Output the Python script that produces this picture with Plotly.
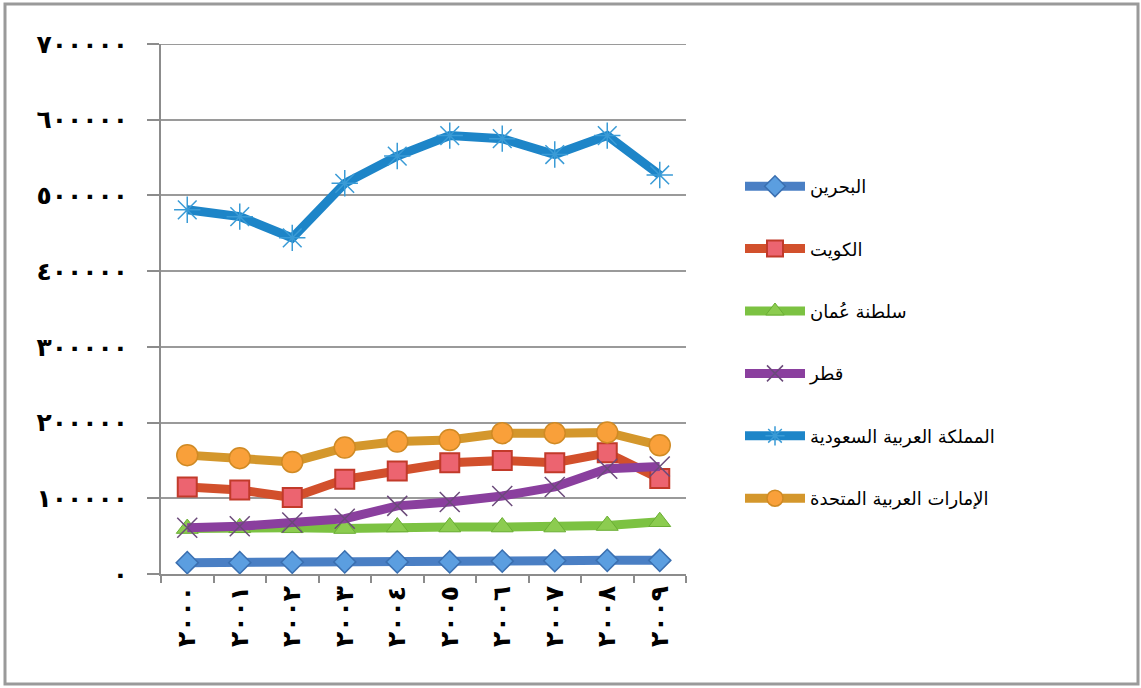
import plotly.graph_objects as go

# Years 2000-2009 written with Arabic-Indic digits
years = ["٢٠٠٠", "٢٠٠١", "٢٠٠٢", "٢٠٠٣", "٢٠٠٤", "٢٠٠٥", "٢٠٠٦", "٢٠٠٧", "٢٠٠٨", "٢٠٠٩"]

bahrain = [15000, 15000, 15500, 16000, 16000, 16000, 17000, 17500, 18000, 18000]
kuwait = [115000, 111000, 101000, 125000, 136000, 147000, 150000, 147000, 160000, 126000]
oman = [60000, 61000, 61000, 60000, 62000, 62000, 62000, 62000, 64000, 69000]
qatar = [61000, 63000, 68000, 73000, 90000, 95000, 103000, 115000, 139000, 142000]
saudi = [481000, 472000, 444000, 516000, 552000, 579000, 575000, 554000, 579000, 527000]
uae = [157000, 153000, 148000, 167000, 175000, 177000, 186000, 186000, 187000, 170000]

y_tick_values = [0, 100000, 200000, 300000, 400000, 500000, 600000, 700000]
y_tick_labels = ["٠", "١٠٠٠٠٠", "٢٠٠٠٠٠", "٣٠٠٠٠٠", "٤٠٠٠٠٠", "٥٠٠٠٠٠", "٦٠٠٠٠٠", "٧٠٠٠٠٠"]

series = [
    ("البحرين", bahrain, "#4a7fc4", dict(symbol="diamond", size=17, color="#5b9ee0",
                                          line=dict(color="#3a6fb0", width=1.5))),
    ("الكويت", kuwait, "#d2502c", dict(symbol="square", size=19, color="#ec6470",
                                        line=dict(color="#c23a2a", width=2))),
    ("سلطنة عُمان", oman, "#7cc242", dict(symbol="triangle-up", size=19, color="#8ccc50",
                                          line=dict(color="#6aae34", width=1))),
    ("قطر", qatar, "#8a3f9e", dict(symbol="x-thin-open", size=20, color="#6b4a7a",
                                    line=dict(color="#6b4a7a", width=1.5))),
    ("المملكة العربية السعودية", saudi, "#1d85c8", dict(symbol="asterisk-open", size=22,
                                                      color="#3a9bd6",
                                                      line=dict(color="#3a9bd6", width=1.5))),
    ("الإمارات العربية المتحدة", uae, "#d4972c", dict(symbol="circle", size=21, color="#f9a03a",
                                                    line=dict(color="#d08a24", width=1.5))),
]

fig = go.Figure()
for i, (name, values, line_color, marker) in enumerate(series):
    fig.add_trace(go.Scatter(
        x=years, y=values, name=name, mode="lines+markers",
        line=dict(color=line_color, width=9),
        marker=marker, legendgroup=f"g{i}",
    ))

W, H = 1141, 688
L, R, T, B = 161, 455, 44, 114
pw, ph = W - L - R, H - T - B

def px_x(p):
    return (p - L) / pw

def px_y(p):
    return (H - B - p) / ph

# outer frame around the whole chart
fig.add_shape(type="rect", xref="paper", yref="paper",
              x0=px_x(5), x1=px_x(1138), y0=px_y(684), y1=px_y(4),
              line=dict(color="#9a9a9a", width=3), fillcolor="rgba(0,0,0,0)", layer="below")

# top gridline sits on the edge of the plot area
fig.add_shape(type="line", xref="paper", yref="y",
              x0=0, x1=1, y0=y_tick_values[-1], y1=y_tick_values[-1],
              line=dict(color="#9a9a9a", width=2), layer="below")

tick_font = dict(family="DejaVu Sans", size=25, color="#000000", weight="bold")

fig.update_layout(
    width=W, height=H,
    margin=dict(l=L, r=R, t=T, b=B),
    paper_bgcolor="white", plot_bgcolor="white",
    showlegend=True,
    legend=dict(
        x=px_x(740), y=px_y(168), xanchor="left", yanchor="top",
        font=dict(family="DejaVu Sans", size=18, color="#000000"),
        tracegroupgap=36, itemwidth=60, bgcolor="rgba(0,0,0,0)",
    ),
    xaxis=dict(
        type="category", range=[-0.5, 9.5], tickangle=-90, tickfont=tick_font,
        showgrid=False, showline=True, linecolor="#8c8c8c", linewidth=2,
        ticks="outside", tickson="boundaries", ticklen=7, tickcolor="#8c8c8c", tickwidth=2,
        zeroline=False,
    ),
    yaxis=dict(
        range=[0, 700000], tickvals=y_tick_values, ticktext=y_tick_labels,
        tickfont=tick_font, showgrid=True, gridcolor="#9a9a9a", gridwidth=2,
        showline=True, linecolor="#8c8c8c", linewidth=2,
        ticks="outside", ticklen=12, tickcolor="#8c8c8c", tickwidth=2,
        zeroline=False, ticklabelstandoff=14,
    ),
)

fig.write_html("out.html")
